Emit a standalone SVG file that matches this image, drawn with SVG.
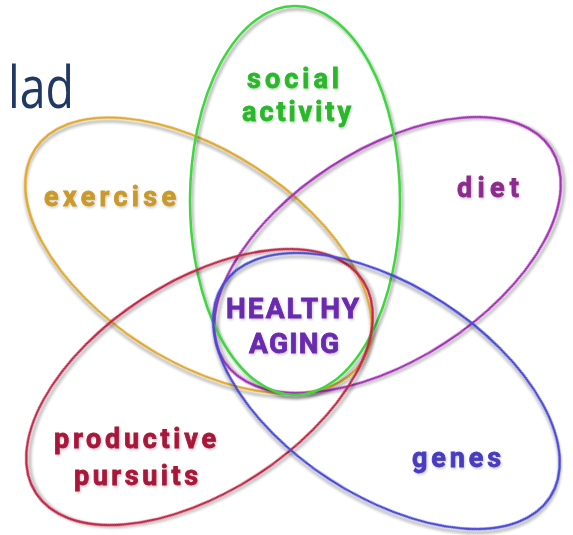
<svg xmlns="http://www.w3.org/2000/svg" width="573" height="535" viewBox="0 0 573 535">
  <defs>
    <filter id="sh" x="-20%" y="-20%" width="140%" height="140%">
      <feDropShadow dx="2" dy="3" stdDeviation="1.8" flood-color="#000" flood-opacity="0.35"/>
    </filter>
    <filter id="tsh" x="-10%" y="-30%" width="120%" height="160%">
      <feDropShadow dx="1" dy="1.5" stdDeviation="1" flood-color="#000" flood-opacity="0.2"/>
    </filter>
  </defs>
  <style>
    .loop { fill: none; stroke-width: 2.5; filter: url(#sh); }
    .lbl { font-family: Roboto, "Liberation Sans", "DejaVu Sans", sans-serif; font-weight: 700; font-size: 27px; stroke-width: 0.8; filter: url(#tsh); }
    .title { font-family: "Open Sans", "Noto Sans", "Liberation Sans", sans-serif; font-size: 59px; fill: #1f3864; }
  </style>
  <rect width="573" height="535" fill="#ffffff"/>
  <text class="title" x="8" y="108" textLength="66" lengthAdjust="spacingAndGlyphs">lad</text>

  <g id="exercise">
    <ellipse class="loop" stroke="#dfa82e" rx="195" ry="105" transform="translate(198.5,255.5) rotate(33)"/>
    <text class="lbl" fill="#c99a2c" stroke="#c99a2c" x="44" y="206" textLength="132" lengthAdjust="spacing">exercise</text>
  </g>
  <g id="diet">
    <ellipse class="loop" stroke="#a232b2" rx="195" ry="105" transform="translate(387.5,255) rotate(-33)"/>
    <text class="lbl" fill="#8e2c8e" stroke="#8e2c8e" x="457" y="197" textLength="62" lengthAdjust="spacing">diet</text>
  </g>
  <g id="social-activity">
    <ellipse class="loop" stroke="#3fd63f" cx="295" cy="200.5" rx="105" ry="194.5"/>
    <text class="lbl" fill="#2ab82a" stroke="#2ab82a" x="247" y="88" textLength="92" lengthAdjust="spacing">social</text>
    <text class="lbl" fill="#2ab82a" stroke="#2ab82a" x="242" y="121" textLength="109" lengthAdjust="spacing">activity</text>
  </g>
  <g id="productive-pursuits">
    <ellipse class="loop" stroke="#c02848" rx="195" ry="105" transform="translate(199.5,387) rotate(-33)"/>
    <text class="lbl" fill="#a8183a" stroke="#a8183a" x="54" y="448" textLength="162" lengthAdjust="spacing">productive</text>
    <text class="lbl" fill="#a8183a" stroke="#a8183a" x="74" y="485" textLength="124" lengthAdjust="spacing">pursuits</text>
  </g>
  <g id="genes">
    <ellipse class="loop" stroke="#4848d6" rx="195" ry="105" transform="translate(386.5,391) rotate(33)"/>
    <text class="lbl" fill="#4a3cbf" stroke="#4a3cbf" x="412" y="467" textLength="89" lengthAdjust="spacing">genes</text>
  </g>
  <g id="healthy-aging">
    <text class="lbl" fill="#6a2ab0" stroke="#6a2ab0" style="font-size:28px" x="226" y="318" textLength="133" lengthAdjust="spacing">HEALTHY</text>
    <text class="lbl" fill="#6a2ab0" stroke="#6a2ab0" style="font-size:28px" x="249" y="353" textLength="90" lengthAdjust="spacing">AGING</text>
  </g>
  <g id="connectors"/>
</svg>
